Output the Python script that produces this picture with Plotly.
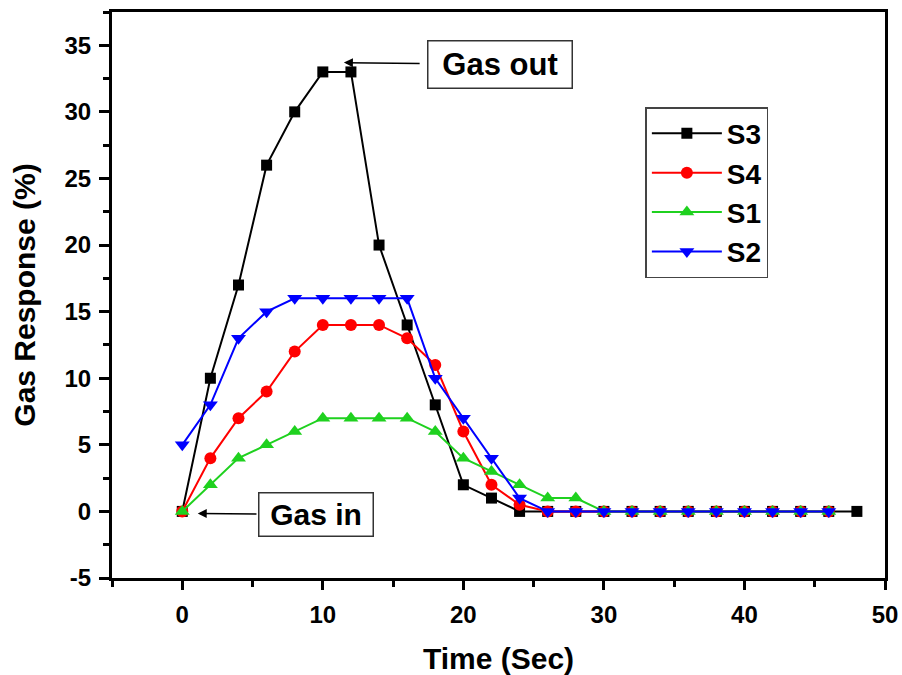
import plotly.graph_objects as go

# ---- data ----
time_s3 = [0, 2, 4, 6, 8, 10, 12, 14, 16, 18, 20, 22, 24, 26, 28, 30, 32, 34, 36, 38, 40, 42, 44, 46, 48]
s3 = [0, 10, 17, 26, 30, 33, 33, 20, 14, 8, 2, 1, 0, 0, 0, 0, 0, 0, 0, 0, 0, 0, 0, 0, 0]

time_other = [0, 2, 4, 6, 8, 10, 12, 14, 16, 18, 20, 22, 24, 26, 28, 30, 32, 34, 36, 38, 40, 42, 44, 46]
s4 = [0, 4, 7, 9, 12, 14, 14, 14, 13, 11, 6, 2, 0.5, 0, 0, 0, 0, 0, 0, 0, 0, 0, 0, 0]
s1 = [0, 2, 4, 5, 6, 7, 7, 7, 7, 6, 4, 3, 2, 1, 1, 0, 0, 0, 0, 0, 0, 0, 0, 0]
s2 = [5, 8, 13, 15, 16, 16, 16, 16, 16, 10, 7, 4, 1, 0, 0, 0, 0, 0, 0, 0, 0, 0, 0, 0]

y_tickvals = [-5, 0, 5, 10, 15, 20, 25, 30, 35]
y_ticktext = ["-5", "0", "5", "10", "15", "20", "25", "30", "35"]

series = [
    ("S3", time_s3, s3, "#000000", "square", 11),
    ("S4", time_other, s4, "#ff0000", "circle", 12),
    ("S1", time_other, s1, "#1fd11f", "triangle-up", 13),
    ("S2", time_other, s2, "#0000ff", "triangle-down", 13),
]

FONT = "Liberation Sans, Arial, sans-serif"

fig = go.Figure()
for i, (name, xs, ys, col, sym, sz) in enumerate(series):
    fig.add_trace(go.Scatter(
        x=xs, y=ys, name=name, mode="lines+markers",
        line=dict(color=col, width=2),
        marker=dict(symbol=sym, size=sz, color=col),
        legendgroup=f"g{i}",
    ))

fig.update_layout(
    width=902, height=675,
    margin=dict(l=112, r=17, t=12, b=97, autoexpand=False),
    paper_bgcolor="white", plot_bgcolor="white",
    font=dict(family=FONT, color="black"),
    showlegend=True,
    legend=dict(
        x=0.69, y=0.832, xanchor="left", yanchor="top",
        bgcolor="white", bordercolor="#444444", borderwidth=1.5,
        font=dict(family=FONT, size=28, color="black", weight="bold"),
        itemwidth=70, tracegroupgap=0, traceorder="grouped",
    ),
    xaxis=dict(
        range=[-5, 50], dtick=10, tick0=0, automargin=False,
        showgrid=False, zeroline=False,
        showline=True, linecolor="black", linewidth=3, mirror=True,
        ticks="outside", ticklen=9, tickwidth=2.5, tickcolor="black",
        minor=dict(dtick=5, tick0=0, ticks="outside", ticklen=6, tickwidth=2.5, tickcolor="black"),
        tickfont=dict(family=FONT, size=24, color="black", weight="bold"),
        ticklabelstandoff=4,
        title=dict(text="Time (Sec)", font=dict(family=FONT, size=30, color="black", weight="bold"), standoff=34),
    ),
    yaxis=dict(
        range=[-5, 37.5], tickvals=y_tickvals, ticktext=y_ticktext, automargin=False,
        showgrid=False, zeroline=False,
        showline=True, linecolor="black", linewidth=3, mirror=True,
        ticks="outside", ticklen=10, tickwidth=2.5, tickcolor="black",
        minor=dict(dtick=2.5, tick0=0, ticks="outside", ticklen=6, tickwidth=2.5, tickcolor="black"),
        tickfont=dict(family=FONT, size=24, color="black", weight="bold"),
        ticklabelstandoff=3,
        title=dict(text="Gas Response (%)", font=dict(family=FONT, size=30, color="black", weight="bold"), standoff=20),
    ),
)

fig.add_annotation(
    x=11.5, y=33.7, xref="x", yref="y",
    text="Gas out", showarrow=True, ax=156, ay=2, axref="pixel", ayref="pixel",
    arrowhead=2, arrowsize=1.2, arrowwidth=1.5, arrowcolor="black", startstandoff=8,
    font=dict(family=FONT, size=31, color="black", weight="bold"),
    width=135, height=38,
    bordercolor="#333333", borderwidth=1.5, borderpad=4, bgcolor="white",
)
fig.add_annotation(
    x=1.1, y=-0.15, xref="x", yref="y",
    text="Gas in", showarrow=True, ax=118, ay=1, axref="pixel", ayref="pixel",
    arrowhead=2, arrowsize=1.2, arrowwidth=1.5, arrowcolor="black", startstandoff=2,
    font=dict(family=FONT, size=30, color="black", weight="bold"),
    width=105, height=34,
    bordercolor="#333333", borderwidth=1.5, borderpad=4, bgcolor="white",
)

fig.write_html("out.html")
